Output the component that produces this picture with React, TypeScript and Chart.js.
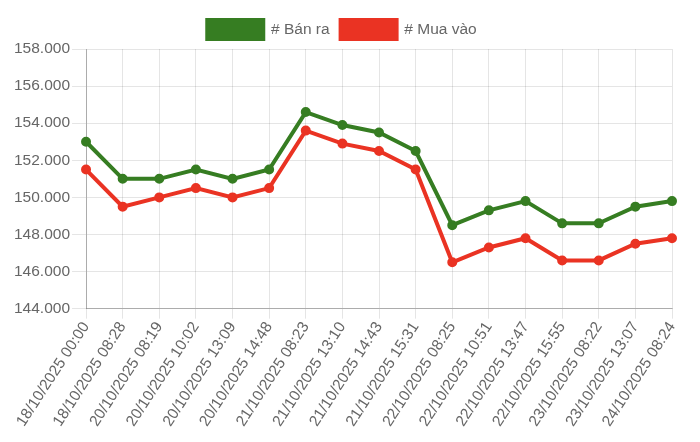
import React, { useEffect, useRef } from "react";
import { Chart, registerables } from "chart.js";

Chart.register(...registerables);

const labels = [
  "18/10/2025 00:00",
  "18/10/2025 08:28",
  "20/10/2025 08:19",
  "20/10/2025 10:02",
  "20/10/2025 13:09",
  "20/10/2025 14:48",
  "21/10/2025 08:23",
  "21/10/2025 13:10",
  "21/10/2025 14:43",
  "21/10/2025 15:31",
  "22/10/2025 08:25",
  "22/10/2025 10:51",
  "22/10/2025 13:47",
  "22/10/2025 15:55",
  "23/10/2025 08:22",
  "23/10/2025 13:07",
  "24/10/2025 08:24",
];

const banRa = [
  153000, 151000, 151000, 151500, 151000, 151500, 154600, 153900, 153500,
  152500, 148500, 149300, 149800, 148600, 148600, 149500, 149800,
];

const muaVao = [
  151500, 149500, 150000, 150500, 150000, 150500, 153600, 152900, 152500,
  151500, 146500, 147300, 147800, 146600, 146600, 147500, 147800,
];

const GREEN = "rgb(54,125,34)";
const RED = "rgb(234,51,35)";

function fmt(v: number): string {
  const s = Math.round(v).toString();
  return s.replace(/\B(?=(\d{3})+(?!\d))/g, ".");
}

export default function App() {
  const ref = useRef<HTMLCanvasElement | null>(null);
  useEffect(() => {
    document.body.style.margin = "0";
    if (!ref.current) return;
    const font = { family: "'Liberation Sans', Arial, Helvetica, sans-serif", size: 15.5 };
    const chart = new Chart(ref.current, {
      type: "line",
      data: {
        labels,
        datasets: [
          {
            label: "# Bán ra",
            data: banRa,
            borderColor: GREEN,
            backgroundColor: GREEN,
            borderWidth: 4,
            pointRadius: 4,
            pointBorderWidth: 2,
            pointBackgroundColor: GREEN,
            pointBorderColor: GREEN,
            tension: 0,
            fill: false,
          },
          {
            label: "# Mua vào",
            data: muaVao,
            borderColor: RED,
            backgroundColor: RED,
            borderWidth: 4,
            pointRadius: 4,
            pointBorderWidth: 2,
            pointBackgroundColor: RED,
            pointBorderColor: RED,
            tension: 0,
            fill: false,
          },
        ],
      },
      options: {
        animation: false,
        responsive: false,
        maintainAspectRatio: false,
        layout: { padding: { left: 12, right: 28, top: 9, bottom: 12 } },
        plugins: {
          legend: {
            position: "top",
            labels: {
              boxWidth: 56,
              boxHeight: 19,
              color: "#666",
              font,
              padding: 11,
            },
          },
          tooltip: { enabled: false },
        },
        scales: {
          x: {
            grid: { color: "rgba(0,0,0,0.1)", tickLength: 10 },
            border: { color: "rgba(0,0,0,0.25)" },
            ticks: {
              color: "#666",
              font,
              minRotation: 57,
              maxRotation: 57,
              autoSkip: false,
              padding: 0,
            },
          },
          y: {
            min: 144000,
            max: 158000,
            grid: { color: "rgba(0,0,0,0.1)", tickLength: 14 },
            border: { color: "rgba(0,0,0,0.25)" },
            ticks: {
              stepSize: 2000,
              color: "#666",
              font,
              padding: 2,
              callback: (v: any) => fmt(Number(v)),
            },
          },
        },
      },
    });
    return () => chart.destroy();
  }, []);
  return (
    <div style={{ width: 700, height: 442 }}>
      <canvas ref={ref} width={700} height={442} style={{ width: 700, height: 442 }} />
    </div>
  );
}
